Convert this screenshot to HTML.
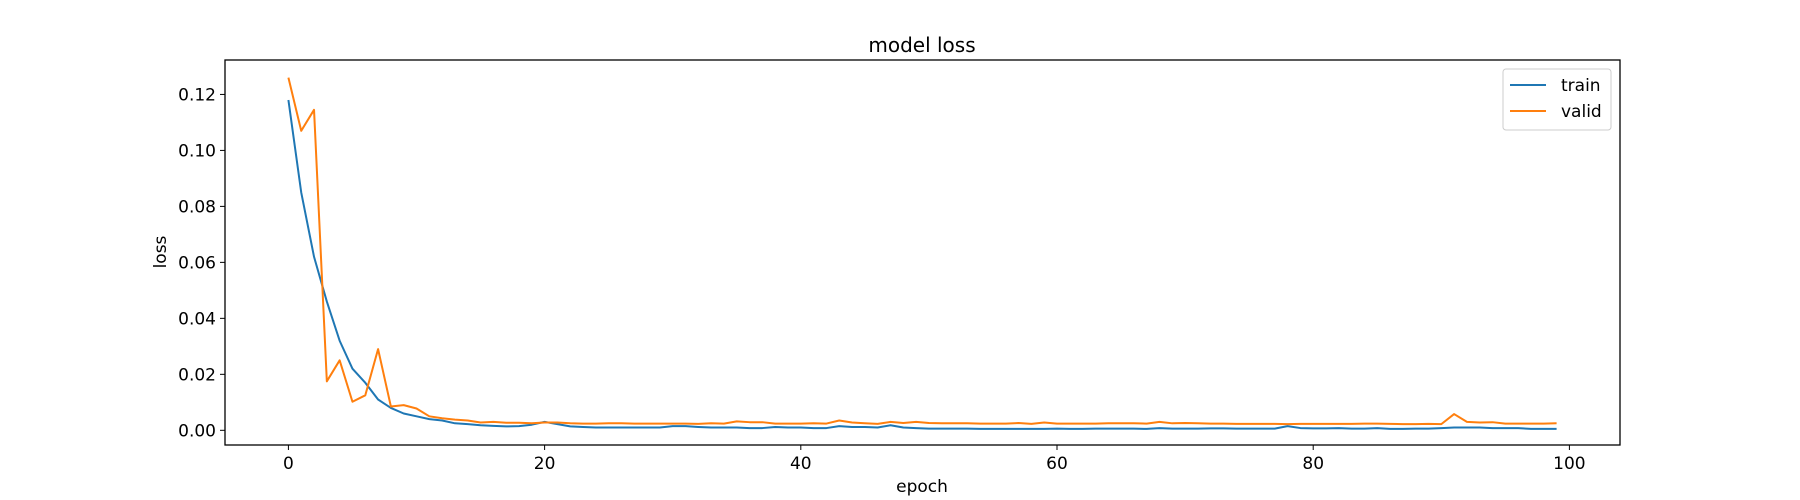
<!DOCTYPE html>
<html><head><meta charset="utf-8"><style>
body{margin:0;background:#fff}
svg{display:block;font-family:"DejaVu Sans","Liberation Sans",sans-serif}
</style></head><body>
<svg id="chart" width="1800" height="500" xmlns="http://www.w3.org/2000/svg">
<rect width="1800" height="500" fill="#fff"/>
<text x="922" y="52" font-size="20" text-anchor="middle">model loss</text>
<g id="plot"></g>
<text x="922" y="492" font-size="17" text-anchor="middle">epoch</text>
<text x="166" y="252" font-size="17" text-anchor="middle" transform="rotate(-90 166 252)">loss</text>
<g>
<rect x="1503" y="69" width="108" height="61" rx="3" fill="#fff" stroke="#ccc"/>
<line x1="1510" y1="85" x2="1546" y2="85" stroke="#1f77b4" stroke-width="2"/>
<text x="1561" y="91" font-size="17">train</text>
<line x1="1510" y1="111" x2="1546" y2="111" stroke="#ff7f0e" stroke-width="2"/>
<text x="1561" y="117" font-size="17">valid</text>
</g>
</svg>
<script>
const xTicks=[0,20,40,60,80,100];
const yTicks=[0.00,0.02,0.04,0.06,0.08,0.10,0.12];
const yTickLabels=["0.00","0.02","0.04","0.06","0.08","0.10","0.12"];
const train=[0.118,0.085,0.062,0.046,0.032,0.022,0.017,0.011,0.008,0.006,0.005,0.004,0.0035,0.0025,0.0022,0.0018,0.0016,0.0014,0.0015,0.002,0.003,0.0022,0.0014,0.0012,0.001,0.001,0.001,0.001,0.001,0.001,0.0015,0.0015,0.0012,0.001,0.001,0.001,0.0008,0.0008,0.0012,0.001,0.001,0.0008,0.0008,0.0015,0.0012,0.0012,0.001,0.0018,0.001,0.0008,0.0006,0.0006,0.0006,0.0006,0.0005,0.0005,0.0005,0.0005,0.0005,0.0005,0.0006,0.0005,0.0005,0.0006,0.0006,0.0006,0.0006,0.0005,0.0008,0.0006,0.0006,0.0006,0.0007,0.0007,0.0006,0.0006,0.0006,0.0006,0.0015,0.0008,0.0007,0.0007,0.0008,0.0006,0.0006,0.0008,0.0005,0.0005,0.0006,0.0006,0.0008,0.001,0.001,0.001,0.0008,0.0008,0.0008,0.0005,0.0005,0.0005];
const valid=[0.126,0.107,0.1145,0.0175,0.025,0.0102,0.0125,0.029,0.0085,0.009,0.0078,0.005,0.0043,0.0038,0.0035,0.0028,0.003,0.0027,0.0027,0.0025,0.0028,0.0028,0.0025,0.0024,0.0024,0.0025,0.0025,0.0024,0.0024,0.0024,0.0024,0.0024,0.0023,0.0025,0.0024,0.0032,0.0029,0.0029,0.0024,0.0024,0.0024,0.0025,0.0024,0.0035,0.0028,0.0025,0.0023,0.003,0.0026,0.003,0.0026,0.0025,0.0025,0.0025,0.0024,0.0024,0.0024,0.0026,0.0023,0.0028,0.0024,0.0024,0.0024,0.0024,0.0025,0.0025,0.0025,0.0024,0.003,0.0025,0.0026,0.0025,0.0024,0.0024,0.0023,0.0023,0.0023,0.0023,0.0022,0.0023,0.0023,0.0023,0.0023,0.0023,0.0024,0.0024,0.0023,0.0022,0.0022,0.0023,0.0022,0.0058,0.003,0.0028,0.0029,0.0024,0.0024,0.0024,0.0024,0.0025];
const L=225,R=1620,T=60,B=445,xmin=-4.95,xmax=103.95,ymin=-0.00525,ymax=0.1323;
const X=v=>L+(v-xmin)/(xmax-xmin)*(R-L);
const Y=v=>B-(v-ymin)/(ymax-ymin)*(B-T);
const NS="http://www.w3.org/2000/svg";
const g=document.getElementById('plot');
function mk(t,a){const e=document.createElementNS(NS,t);for(const k in a)e.setAttribute(k,a[k]);g.appendChild(e);return e;}
xTicks.forEach(t=>{
 const l=mk('line',{x1:X(t),x2:X(t),y1:B,y2:B+5,stroke:'#000','stroke-width':1});
 
 
 const s=mk('text',{x:X(t),y:B+24,'font-size':17,'text-anchor':'middle'});s.textContent=t;
 
 
});
yTicks.forEach((t,i)=>{
 const l=mk('line',{x1:L-5,x2:L,y1:Y(t),y2:Y(t),stroke:'#000','stroke-width':1});
 
 
 const s=mk('text',{x:L-9,y:Y(t)+6,'font-size':17,'text-anchor':'end'});s.textContent=yTickLabels[i];
 
 
});
function line(d,c,n){
 const p=mk('polyline',{points:d.map((v,i)=>X(i)+','+Y(v)).join(' '),fill:'none',stroke:c,'stroke-width':2,'stroke-linejoin':'round'});
 
 
}
line(train,'#1f77b4','train-line');
line(valid,'#ff7f0e','valid-line');
const f=mk('rect',{x:L,y:T,width:R-L,height:B-T,fill:'none',stroke:'#000','stroke-width':1.3});


</script>
</body></html>
